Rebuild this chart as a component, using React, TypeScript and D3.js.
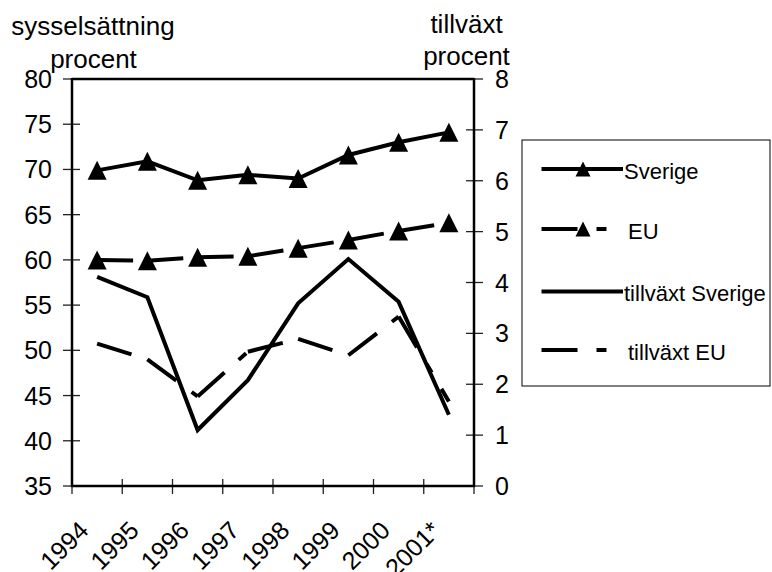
import React from "react";
import * as d3 from "d3";

const years = ["1994", "1995", "1996", "1997", "1998", "1999", "2000", "2001*"];
const sverige = [69.9, 70.9, 68.8, 69.4, 69.0, 71.6, 73.0, 74.1];
const eu = [60.0, 59.9, 60.3, 60.4, 61.3, 62.2, 63.2, 64.1];
const tillvaxtSverige = [4.11, 3.71, 1.1, 2.08, 3.59, 4.46, 3.62, 1.4];
const tillvaxtEU = [2.8, 2.49, 1.76, 2.64, 2.89, 2.57, 3.33, 1.66];
const leftTicks = [35, 40, 45, 50, 55, 60, 65, 70, 75, 80];
const rightTicks = [0, 1, 2, 3, 4, 5, 6, 7, 8];
const legendItems = [
  { label: "Sverige", dashed: false, marker: true },
  { label: "EU", dashed: true, marker: true },
  { label: "tillväxt Sverige", dashed: false, marker: false },
  { label: "tillväxt EU", dashed: true, marker: false },
];

const W = 772;
const H = 572;
const L = 72;
const R = 474;
const T = 79;
const B = 486;
const FONT = "'Liberation Sans', Arial, Helvetica, sans-serif";
const DASH = "36,19,10,19";

function tri(cx: number, cy: number, w: number, h: number) {
  return `M${cx},${cy - h / 2}L${cx + w / 2},${cy + h / 2}L${cx - w / 2},${cy + h / 2}Z`;
}

export default function App() {
  const x = d3.scaleBand<string>().domain(years).range([L, R]).padding(0);
  const cx = (i: number) => (x(years[i]) as number) + x.bandwidth() / 2;
  const yL = d3.scaleLinear().domain([35, 80]).range([B, T]);
  const yR = d3.scaleLinear().domain([0, 8]).range([B, T]);

  const lineL = d3
    .line<number>()
    .x((_, i) => cx(i))
    .y((d) => yL(d));
  const lineR = d3
    .line<number>()
    .x((_, i) => cx(i))
    .y((d) => yR(d));

  const segments = (vals: number[], y: (v: number) => number) =>
    vals.slice(0, -1).map((v, i) => (
      <line
        key={i}
        x1={cx(i)}
        y1={y(v)}
        x2={cx(i + 1)}
        y2={y(vals[i + 1])}
        stroke="#000"
        strokeWidth={4}
        strokeDasharray={DASH}
      />
    ));

  const bandEdges = years.map((y) => x(y) as number).concat([R]);

  const legX = 522;
  const legY = 140;
  const legW = 248;
  const legH = 246;
  const legRows = [169, 229, 291.5, 350];

  return (
    <svg
      width={W}
      height={H}
      style={{ position: "absolute", left: 0, top: 0, background: "#fff" }}
      fontFamily={FONT}
    >
      <rect x={0} y={0} width={W} height={H} fill="#fff" />
      {/* titles */}
      <text x={93} y={35} fontSize={26} textAnchor="middle">sysselsättning</text>
      <text x={93.5} y={68} fontSize={26} textAnchor="middle">procent</text>
      <text x={466.5} y={33} fontSize={26} textAnchor="middle">tillväxt</text>
      <text x={466.5} y={65} fontSize={26} textAnchor="middle">procent</text>

      {/* ticks */}
      {leftTicks.map((t) => (
        <g key={"l" + t}>
          <line x1={L - 9} x2={t === 80 ? L : L + 8} y1={yL(t)} y2={yL(t)} stroke="#222" strokeWidth={1.3} />
          <text x={52} y={yL(t)} fontSize={25} textAnchor="end" dominantBaseline="central">{t}</text>
        </g>
      ))}
      {rightTicks.map((t) => (
        <g key={"r" + t}>
          <line x1={t === 8 ? R : R - 8} x2={R + 9} y1={yR(t)} y2={yR(t)} stroke="#222" strokeWidth={1.3} />
          <text x={495} y={yR(t)} fontSize={25} textAnchor="start" dominantBaseline="central">{t}</text>
        </g>
      ))}
      {bandEdges.map((e, i) => (
        <line key={"b" + i} x1={e} x2={e} y1={B - 7} y2={B + 8} stroke="#222" strokeWidth={1.3} />
      ))}
      {years.map((yr, i) => (
        <text
          key={yr}
          transform={`translate(${cx(i) - 7},${532}) rotate(-45)`}
          fontSize={25}
          textAnchor="end"
        >
          {yr}
        </text>
      ))}

      {/* frame */}
      <line x1={L} x2={R} y1={T} y2={T} stroke="#000" strokeWidth={2.5} />
      <line x1={L} x2={L} y1={T - 1} y2={B + 1} stroke="#000" strokeWidth={2.5} />
      <line x1={R} x2={R} y1={T - 1} y2={B + 1} stroke="#000" strokeWidth={2.5} />
      <line x1={L - 1} x2={R + 1} y1={B} y2={B} stroke="#000" strokeWidth={2.5} />

      {/* series */}
      <path d={lineR(tillvaxtSverige) || ""} fill="none" stroke="#000" strokeWidth={4} strokeLinejoin="miter" />
      <g>{segments(tillvaxtEU, yR)}</g>
      <path d={lineL(sverige) || ""} fill="none" stroke="#000" strokeWidth={4} />
      <g>{segments(eu, yL)}</g>
      {sverige.map((v, i) => (
        <path key={"sm" + i} d={tri(cx(i), yL(v), 19, 19)} fill="#000" />
      ))}
      {eu.map((v, i) => (
        <path key={"em" + i} d={tri(cx(i), yL(v), 19, 19)} fill="#000" />
      ))}

      {/* legend */}
      <rect x={legX} y={legY} width={legW} height={legH} fill="#fff" stroke="#000" strokeWidth={1} />
      {legendItems.map((it, i) => (
        <g key={it.label}>
          <line
            x1={541.5}
            x2={623}
            y1={legRows[i]}
            y2={legRows[i]}
            stroke="#000"
            strokeWidth={4}
            strokeDasharray={it.dashed ? DASH : undefined}
          />
          {it.marker && <path d={tri(583, legRows[i], 15, 15)} fill="#000" />}
          <text
            x={it.dashed ? 628 : 624}
            y={legRows[i] + 2}
            fontSize={22}
            dominantBaseline="central"
          >
            {it.label}
          </text>
        </g>
      ))}
    </svg>
  );
}
